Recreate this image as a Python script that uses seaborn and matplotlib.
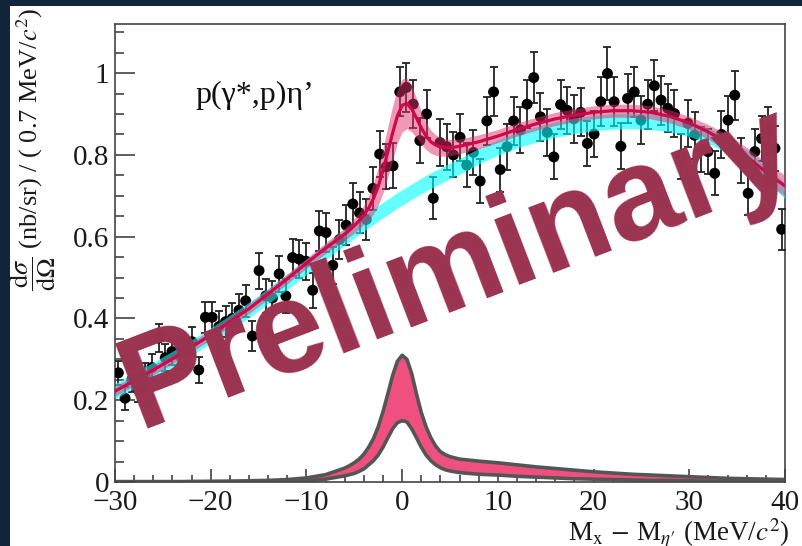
import numpy as np
import matplotlib
matplotlib.use('Agg')
import matplotlib.pyplot as plt
from matplotlib.patches import Rectangle
from matplotlib.ticker import MultipleLocator, FuncFormatter
import seaborn as sns

sns.set_style('ticks')
plt.rcParams['font.family'] = ['Liberation Serif', 'DejaVu Serif']
plt.rcParams['mathtext.fontset'] = 'stix'

# measured points, 0.7 MeV bins from -30 to 40
bin_width = 0.7
mass_bins = np.round(np.arange(-30 + bin_width / 2, 40, bin_width), 2)
xsec = [0.267, 0.205, 0.250, 0.225, 0.260, 0.280, 0.352, 0.304, 0.319, 0.310,
        0.320, 0.343, 0.274, 0.403, 0.403, 0.380, 0.392, 0.400, 0.420, 0.443,
        0.357, 0.517, 0.455, 0.450, 0.509, 0.455, 0.549, 0.545, 0.540, 0.469,
        0.614, 0.610, 0.530, 0.593, 0.628, 0.680, 0.658, 0.642, 0.718, 0.802,
        0.771, 0.773, 0.954, 0.965, 0.924, 0.835, 0.900, 0.694, 0.830, 0.820,
        0.800, 0.843, 0.775, 0.806, 0.736, 0.883, 0.954, 0.764, 0.820, 0.883,
        0.861, 0.924, 0.989, 0.893, 0.855, 0.795, 0.923, 0.909, 0.888, 0.904,
        0.828, 0.851, 0.930, 0.999, 0.930, 0.821, 0.938, 0.954, 0.885, 0.924,
        0.969, 0.934, 0.914, 0.901, 0.797, 0.877, 0.848, 0.812, 0.808, 0.755,
        0.850, 0.885, 0.946, 0.787, 0.706, 0.808, 0.840, 0.860, 0.816, 0.618]
xsec_err = [0.030, 0.028, 0.030, 0.030, 0.031, 0.032, 0.035, 0.033, 0.034, 0.033,
            0.034, 0.035, 0.032, 0.038, 0.038, 0.037, 0.038, 0.038, 0.039, 0.040,
            0.037, 0.044, 0.041, 0.041, 0.044, 0.042, 0.046, 0.046, 0.045, 0.043,
            0.048, 0.048, 0.045, 0.047, 0.049, 0.051, 0.050, 0.050, 0.052, 0.056,
            0.055, 0.055, 0.060, 0.060, 0.059, 0.056, 0.058, 0.052, 0.057, 0.056,
            0.055, 0.057, 0.054, 0.056, 0.053, 0.058, 0.060, 0.054, 0.056, 0.058,
            0.057, 0.059, 0.062, 0.058, 0.057, 0.055, 0.059, 0.058, 0.058, 0.059,
            0.056, 0.057, 0.060, 0.066, 0.060, 0.056, 0.060, 0.061, 0.058, 0.060,
            0.062, 0.060, 0.059, 0.058, 0.055, 0.058, 0.057, 0.055, 0.055, 0.054,
            0.057, 0.058, 0.060, 0.055, 0.052, 0.055, 0.056, 0.057, 0.055, 0.050]

# fit curves
curve_x = [-30, -28, -26, -24, -22, -20, -18, -16, -14, -12, -10, -8,
           -6, -5.5, -5, -4.5, -4, -3.5, -3, -2.5, -2, -1.5, -1, -0.5,
           0, 0.5, 1, 1.5, 2, 2.5, 3, 3.5, 4, 4.5, 5, 5.5, 6,
           8, 10, 12, 14, 16, 18, 20, 22, 24, 26, 28, 30, 32, 34, 36, 38, 40]
bkg_fit = [0.222, 0.248, 0.274, 0.301, 0.329, 0.358, 0.389, 0.421, 0.455, 0.490, 0.526, 0.563,
           0.598, 0.607, 0.615, 0.624, 0.632, 0.641, 0.649, 0.657, 0.665, 0.673, 0.681, 0.689,
           0.696, 0.703, 0.710, 0.717, 0.724, 0.731, 0.737, 0.743, 0.749, 0.755, 0.761, 0.767, 0.772,
           0.797, 0.818, 0.836, 0.850, 0.862, 0.871, 0.878, 0.882, 0.883, 0.881, 0.875, 0.864,
           0.847, 0.823, 0.792, 0.755, 0.712]
bkg_band = 0.019
total_fit = [0.222, 0.248, 0.274, 0.301, 0.330, 0.360, 0.392, 0.424, 0.460, 0.497, 0.535, 0.572,
             0.606, 0.616, 0.627, 0.639, 0.653, 0.670, 0.693, 0.723, 0.762, 0.807, 0.853, 0.895,
             0.921, 0.926, 0.912, 0.890, 0.866, 0.846, 0.832, 0.824, 0.820, 0.818, 0.818, 0.819, 0.821,
             0.832, 0.846, 0.862, 0.876, 0.888, 0.897, 0.904, 0.908, 0.908, 0.904, 0.894, 0.878,
             0.856, 0.829, 0.796, 0.758, 0.724]
total_band = [0.012, 0.012, 0.012, 0.012, 0.012, 0.012, 0.012, 0.012, 0.012, 0.012, 0.012, 0.013,
              0.015, 0.016, 0.018, 0.020, 0.024, 0.030, 0.038, 0.046, 0.055, 0.062, 0.066, 0.066,
              0.065, 0.062, 0.056, 0.048, 0.040, 0.033, 0.028, 0.025, 0.023, 0.021, 0.020, 0.019, 0.018,
              0.017, 0.016, 0.016, 0.016, 0.016, 0.016, 0.016, 0.016, 0.016, 0.016, 0.016, 0.016,
              0.018, 0.020, 0.022, 0.024, 0.026]
signal_hi = [0.001, 0.001, 0.001, 0.001, 0.001, 0.0015, 0.002, 0.003, 0.004, 0.006, 0.010, 0.018,
             0.034, 0.040, 0.047, 0.056, 0.068, 0.085, 0.106, 0.135, 0.172, 0.215, 0.260, 0.295,
             0.310, 0.300, 0.265, 0.215, 0.170, 0.135, 0.108, 0.088, 0.074, 0.067, 0.062, 0.059, 0.056,
             0.051, 0.047, 0.042, 0.037, 0.033, 0.029, 0.025, 0.022, 0.019, 0.017, 0.015, 0.013,
             0.011, 0.009, 0.008, 0.007, 0.006]
signal_lo = [0.0, 0.0, 0.0, 0.0, 0.001, 0.001, 0.001, 0.001, 0.001, 0.002, 0.003, 0.007,
             0.015, 0.018, 0.021, 0.026, 0.032, 0.042, 0.052, 0.066, 0.085, 0.108, 0.130, 0.145,
             0.150, 0.147, 0.130, 0.108, 0.085, 0.066, 0.052, 0.042, 0.035, 0.030, 0.027, 0.025, 0.023,
             0.019, 0.017, 0.014, 0.012, 0.010, 0.008, 0.007, 0.006, 0.005, 0.004, 0.004, 0.003,
             0.002, 0.002, 0.002, 0.002, 0.002]

cx = np.array(curve_x)
bkg = np.array(bkg_fit)
tot = np.array(total_fit)
tot_b = np.array(total_band)

fig = plt.figure(figsize=(8.02, 5.46), dpi=100)
fig.patch.set_facecolor('#10243a')
fig.add_artist(Rectangle((10 / 802, 0), 1, 540 / 546, transform=fig.transFigure,
                         facecolor='white', edgecolor='none', zorder=-1))
ax = fig.add_axes([0.1434, 0.1172, 0.8354, 0.8388])

# signal component
ax.fill_between(cx, signal_lo, signal_hi, color='#f0507f', lw=0, zorder=1)
sns.lineplot(x=curve_x, y=signal_hi, color='#555555', lw=2.6, ax=ax, zorder=2)
sns.lineplot(x=curve_x, y=signal_lo, color='#555555', lw=2.6, ax=ax, zorder=2)

# data
ax.errorbar(mass_bins, xsec, yerr=xsec_err, fmt='none', ecolor='#222222',
            elinewidth=1.3, capsize=3, capthick=1.3, zorder=3)
sns.scatterplot(x=mass_bins, y=xsec, color='black', s=62, edgecolor='none', ax=ax, zorder=3.5)

# background and total fit
ax.fill_between(cx, bkg - bkg_band, bkg + bkg_band, color='#00ffff', alpha=0.6, lw=0, zorder=4)
ax.fill_between(cx, tot - tot_b, tot + tot_b, color='#e0306a', alpha=0.5, lw=0, zorder=5)
sns.lineplot(x=curve_x, y=total_fit, color='#d0084a', lw=2.3, ax=ax, zorder=6)

ax.set_xlim(-30, 40)
ax.set_ylim(0, 1.12)
ax.xaxis.set_major_locator(MultipleLocator(10))
ax.xaxis.set_minor_locator(MultipleLocator(2))
ax.yaxis.set_major_locator(MultipleLocator(0.2))
ax.yaxis.set_minor_locator(MultipleLocator(0.05))
ax.yaxis.set_major_formatter(FuncFormatter(lambda v, p: f'{v:g}'))
ax.tick_params(which='both', direction='in', top=False, right=False,
               color='#333333', width=1.1, labelsize=21, labelcolor='#1a1a1a')
ax.tick_params(axis='y', which='major', length=14.5, pad=4)
ax.tick_params(axis='y', which='minor', length=6.5)
ax.tick_params(axis='x', which='major', length=9.5, pad=6)
ax.tick_params(axis='x', which='minor', length=5)
for s in ax.spines.values():
    s.set_color('#444444')
    s.set_linewidth(1.2)

ax.set_ylabel(r'$\dfrac{\mathrm{d}\sigma}{\mathrm{d}\Omega}$ (nb/sr) / ( 0.7 MeV/$c^{2}$)',
              fontsize=19, loc='top', color='#1a1a1a')
ax.yaxis.set_label_coords(-0.085, 1.035)
ax.set_xlabel(r'M$_{\mathrm{x}}\,-\,$M$_{\eta\prime}$ (MeV/$c^{2}$)', fontsize=19.5,
              loc='right', color='#1a1a1a')
ax.xaxis.set_label_coords(1.0075, -0.076)

ax.text(-21.6, 0.945, 'p(γ*,p)η’', fontsize=23, ha='left', va='center', color='#111111')

ax.text(-27.5, 0.131, 'Preliminary', fontsize=94, fontweight='bold', family='Liberation Sans',
        color='#9b3350', rotation=21, rotation_mode='anchor', ha='left', va='baseline',
        zorder=20, clip_on=False)

fig.savefig('out.png', dpi=100, facecolor=fig.get_facecolor())
